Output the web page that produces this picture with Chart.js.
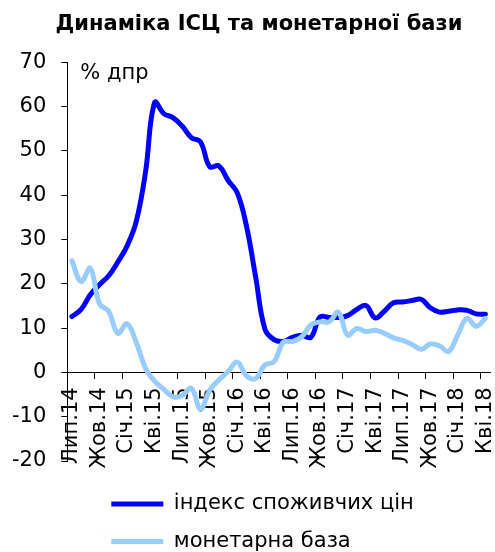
<!DOCTYPE html>
<html>
<head>
<meta charset="utf-8">
<script src="https://cdn.jsdelivr.net/npm/chart.js@4/dist/chart.umd.min.js"></script>
<style>
  html, body { margin: 0; padding: 0; background: #fff; }
  canvas { display: block; }
</style>
</head>
<body>
<canvas id="chart" width="495" height="552"></canvas>
<script>
// місяці з лип.2014 по кві.2018, підпис лише кожного третього
const months = [
    'Лип.14', 'Сер.14', 'Вер.14', 'Жов.14', 'Лис.14', 'Гру.14',
    'Січ.15', 'Лют.15', 'Бер.15', 'Кві.15', 'Тра.15', 'Чер.15',
    'Лип.15', 'Сер.15', 'Вер.15', 'Жов.15', 'Лис.15', 'Гру.15',
    'Січ.16', 'Лют.16', 'Бер.16', 'Кві.16', 'Тра.16', 'Чер.16',
    'Лип.16', 'Сер.16', 'Вер.16', 'Жов.16', 'Лис.16', 'Гру.16',
    'Січ.17', 'Лют.17', 'Бер.17', 'Кві.17', 'Тра.17', 'Чер.17',
    'Лип.17', 'Сер.17', 'Вер.17', 'Жов.17', 'Лис.17', 'Гру.17',
    'Січ.18', 'Лют.18', 'Бер.18', 'Кві.18'
];

// індекс споживчих цін, % дпр
const cpi = [
    12.6, 14.2, 17.5, 19.8, 21.8, 24.9,
    28.5, 34.0, 45.0, 60.9, 58.4, 57.5,
    55.6, 53.0, 52.0, 46.4, 46.6, 43.3,
    40.5, 33.0, 21.5, 9.8, 7.4, 7.0,
    7.9, 8.4, 7.9, 12.5, 12.4, 12.4,
    12.8, 14.2, 15.1, 12.3, 13.8, 15.7,
    15.9, 16.2, 16.5, 14.6, 13.6, 13.8,
    14.1, 14.0, 13.2, 13.1
];

// монетарна база, % дпр
const moneyBase = [
    25.2, 20.5, 23.5, 15.5, 13.8, 8.8,
    11.0, 6.8, 1.0, -2.0, -3.8, -5.5,
    -5.2, -3.6, -8.3, -4.0, -1.7, 0.2,
    2.3, -0.8, -1.4, 1.7, 2.4, 6.8,
    7.0, 8.0, 10.7, 11.4, 11.4, 13.6,
    8.4, 9.9, 9.2, 9.5, 8.8, 7.8,
    7.2, 6.3, 5.2, 6.4, 6.0, 4.7,
    8.5, 12.2, 10.4, 12.2
];

const seriesNames = ['індекс споживчих цін', 'монетарна база'];
const unitLabel = '% дпр';
const titleText = 'Динаміка ІСЦ та монетарної бази';

const FONT = 'DejaVu Sans';
const FSIZE = 21;

// підпис одиниць у верхньому лівому куті поля графіка
const unitPlugin = {
    id: 'unitLabel',
    afterDraw(chart) {
        const {ctx, chartArea} = chart;
        ctx.save();
        ctx.font = `${FSIZE}px "${FONT}"`;
        ctx.fillStyle = '#000';
        ctx.textBaseline = 'middle';
        ctx.fillText(unitLabel, chartArea.left + 13, chartArea.top + 11);
        ctx.restore();
    }
};

// заголовок трохи правіше, легенда з відступом від осі та нижче
const layoutTweak = {
    id: 'layoutTweak',
    afterLayout(chart) {
        chart.titleBlock.left += 16;
        const lg = chart.legend;
        lg.left = chart.chartArea.left + 44 - lg.options.labels.padding;
        lg.top += 16;
        lg.bottom += 16;
    }
};

const ctx = document.querySelector('#chart').getContext('2d');

const myChart = new Chart(ctx, {
    type: 'line',
    data: {
        labels: months,
        datasets: [{
            label: seriesNames[0],
            data: cpi,
            borderColor: '#0000FF',
            backgroundColor: '#0000FF',
            borderWidth: 5,
            order: 2
        }, {
            label: seriesNames[1],
            data: moneyBase,
            borderColor: '#99CCFF',
            backgroundColor: '#99CCFF',
            borderWidth: 5,
            order: 1
        }]
    },
    options: {
        responsive: false,
        animation: false,
        layout: {
            padding: {left: 12, right: 5, top: 0, bottom: 6}
        },
        elements: {
            point: {radius: 0, hoverRadius: 0},
            line: {tension: 0.4, borderCapStyle: 'round', borderJoinStyle: 'round'}
        },
        scales: {
            x: {
                type: 'category',
                position: {y: 0},
                offset: true,
                grid: {
                    offset: true,
                    drawOnChartArea: false,
                    tickLength: 6,
                    tickColor: c => (c.index % 3 === 0 ? '#000' : 'rgba(0,0,0,0)')
                },
                border: {display: true, color: '#000', width: 1},
                ticks: {
                    autoSkip: false,
                    maxRotation: 90,
                    minRotation: 90,
                    padding: 9,
                    color: '#000',
                    font: {family: FONT, size: FSIZE},
                    callback: function (value, index) {
                        return index % 3 === 0 ? this.getLabelForValue(value) : '';
                    }
                },
                // підписи повернуті, тож зайвих полів праворуч/ліворуч не треба
                afterFit: scale => {
                    scale.paddingLeft = 0;
                    scale.paddingRight = 0;
                }
            },
            y: {
                min: -20,
                max: 70,
                grid: {
                    drawOnChartArea: false,
                    tickLength: 6,
                    tickColor: '#000'
                },
                border: {display: true, color: '#000', width: 1},
                ticks: {
                    stepSize: 10,
                    padding: 15,
                    color: '#000',
                    font: {family: FONT, size: FSIZE}
                },
                // chart.js рахує відступ підписів двічі
                afterFit: scale => {
                    scale.width -= scale.options.ticks.padding;
                }
            }
        },
        plugins: {
            title: {
                display: true,
                text: titleText,
                color: '#000',
                font: {family: FONT, size: FSIZE, weight: 'bold'},
                padding: {top: 12, bottom: 25}
            },
            legend: {
                position: 'bottom',
                align: 'start',
                labels: {
                    usePointStyle: true,
                    pointStyle: 'line',
                    pointStyleWidth: 52,
                    padding: 16.5,
                    color: '#000',
                    font: {family: FONT, size: FSIZE},
                    sort: (a, b) => a.datasetIndex - b.datasetIndex
                }
            },
            tooltip: {enabled: false}
        }
    },
    plugins: [unitPlugin, layoutTweak]
});
</script>
</body>
</html>
